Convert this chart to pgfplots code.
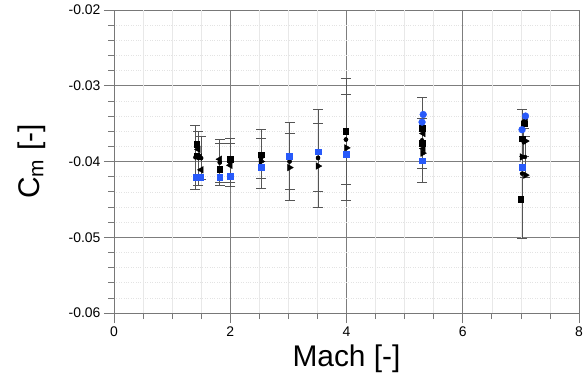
\documentclass[border=0pt]{standalone}
\usepackage{fontspec}
\setmainfont{Liberation Sans}
\usepackage{pgfplots}
\pgfplotsset{compat=1.18}
\definecolor{mblue}{RGB}{40,90,250}
\definecolor{axgray}{RGB}{120,120,120}
\definecolor{majgrid}{RGB}{125,125,125}
\definecolor{ebar}{RGB}{85,85,85}
\begin{document}
\begin{tikzpicture}
\begin{axis}[
  scale only axis, width=465bp, height=303bp,
  xmin=0, xmax=8, ymin=-0.06, ymax=-0.02,
  xtick={0,2,4,6,8}, ytick={-0.06,-0.05,-0.04,-0.03,-0.02},
  minor y tick num=4,
  extra x ticks={0.5,1,1.5,2.5,3,3.5,4.5,5,5.5,6.5,7,7.5},
  extra x tick labels={},
  extra x tick style={major tick length=6bp, major grid style={draw=black!9, line width=0.6bp}},
  tick pos=left, tick align=outside,
  major tick length=10bp, minor tick length=6bp,
  every tick/.style={axgray, line width=0.7bp},
  axis line style={axgray, line width=0.8bp},
  xmajorgrids, ymajorgrids, yminorgrids,
  major grid style={majgrid, line width=0.7bp},
  minor grid style={black!11, dotted, line width=0.6bp},
  /pgf/number format/assume math mode=true,
  yticklabel style={/pgf/number format/fixed, /pgf/number format/precision=2, /pgf/number format/fixed zerofill},
  scaled y ticks=false,
  tick label style={font=\fontsize{14}{16}\selectfont},
  xlabel={Mach [-]}, ylabel={C$_{\mathrm{m}}$ [-]},
  label style={font=\fontsize{30}{34}\selectfont},
  xlabel style={yshift=14bp},
  ylabel style={yshift=16bp},
]
% error bars
\addplot[forget plot, only marks, mark=none, error bars/.cd, y dir=both, y explicit,
  error bar style={ebar, line width=0.8bp},
  error mark options={rotate=90, ebar, mark size=5bp, line width=0.8bp}]
  table[x=x, y=y, y error=e] {
x y e
1.40 -0.03945 0.00425
1.45 -0.03955 0.00355
1.50 -0.03955 0.00285
1.82 -0.0401 0.0030
1.82 -0.04015 0.00255
2.00 -0.0401 0.0032
2.00 -0.04015 0.00255
2.53 -0.0396 0.0039
2.53 -0.03955 0.00265
3.02 -0.0400 0.0052
3.02 -0.0400 0.0037
3.51 -0.03955 0.00645
3.51 -0.0395 0.0045
3.99 -0.0371 0.0081
3.99 -0.0371 0.0059
5.30 -0.0372 0.0056
5.30 -0.0376 0.0033
7.02 -0.0416 0.0085
7.07 -0.0394 0.0027
7.05 -0.03745 0.00185
};
% black squares
\addplot[only marks, mark=square*, mark size=2.7bp, black] coordinates {
(1.42,-0.0377) (1.42,-0.0392) (1.82,-0.0410) (2.00,-0.0397) (2.53,-0.0391)
(3.99,-0.0360) (5.30,-0.0356) (5.30,-0.0376) (7.06,-0.0350) (7.02,-0.0370) (7.00,-0.0450)
};
% black left triangles
\addplot[only marks, mark=triangle*, mark size=3.8bp, black, mark options={rotate=90}] coordinates {
(1.45,-0.0384) (1.47,-0.0394) (1.50,-0.0411) (1.82,-0.0397) (2.00,-0.0405)
(5.32,-0.0363) (5.32,-0.0383) (7.08,-0.0346)
};
% black right triangles
\addplot[only marks, mark=triangle*, mark size=3.8bp, black, mark options={rotate=-90}] coordinates {
(2.53,-0.0400) (3.02,-0.0408) (3.51,-0.0406) (4.00,-0.0382) (5.31,-0.0389)
(7.08,-0.0373) (7.02,-0.0394) (7.08,-0.0418)
};
% blue squares
\addplot[only marks, mark=square*, mark size=2.9bp, mblue] coordinates {
(1.42,-0.0421) (1.48,-0.0421) (1.82,-0.0421) (2.00,-0.0419) (2.53,-0.0407)
(3.02,-0.0393) (3.51,-0.0387) (3.99,-0.0390) (5.30,-0.0399) (7.02,-0.0408)
};
% blue circles
\addplot[only marks, mark=*, mark size=3.4bp, mblue] coordinates {
(5.32,-0.0338) (5.30,-0.0348) (7.08,-0.0340) (7.02,-0.0358)
};
\coordinate (ll) at (rel axis cs:0,0);
\coordinate (ur) at (rel axis cs:1,1);
\end{axis}
\pgfresetboundingbox
\path[use as bounding box] ([shift={(-114bp,-64bp)}]ll) rectangle ([shift={(7bp,10bp)}]ur);
\end{tikzpicture}
\end{document}
